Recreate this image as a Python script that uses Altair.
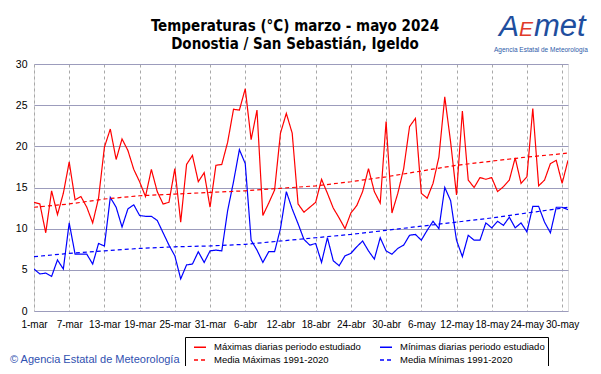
import json
import altair as alt
import pandas as pd

# ---- data ----
series_names = [
    "Máximas diarias periodo estudiado",
    "Mínimas diarias periodo estudiado",
    "Media Máximas 1991-2020",
    "Media Mínimas 1991-2020",
]
# legend fills column by column: [col0 row0, col0 row1, col1 row0, col1 row1]
legend_order = [series_names[0], series_names[2], series_names[1], series_names[3]]
series_colors = ["#ff0000", "#ff0000", "#0000ff", "#0000ff"]
series_dashes = [[1, 0], [4, 3], [1, 0], [4, 3]]

# day index 0 = 1 March 2024 ... 91 = 31 May 2024
days = list(range(92))

maximas = [
    13.2, 13.0, 9.5, 14.6, 11.7, 14.3, 18.1, 13.5, 13.9, 12.6,
    10.7, 13.7, 19.9, 22.1, 18.4, 20.9, 19.5, 17.2, 15.7, 13.9,
    17.2, 14.5, 13.0, 13.2, 17.3, 10.8, 17.8, 18.9, 15.7, 16.8,
    12.6, 17.7, 17.8, 20.5, 24.5, 24.4, 27.0, 20.8, 24.4, 11.6,
    13.1, 14.7, 21.6, 24.0, 21.6, 13.0, 12.0, 12.6, 13.2, 16.0,
    14.3, 12.5, 11.3, 10.0, 11.9, 12.8, 14.5, 17.3, 14.5, 13.1,
    23.0, 11.9, 14.3, 17.3, 22.4, 23.4, 14.3, 13.7, 15.5, 18.7,
    26.0, 20.5, 14.1, 24.3, 15.9, 15.0, 16.2, 16.0, 16.2, 14.5,
    15.1, 15.9, 18.6, 15.5, 16.3, 24.6, 15.2, 15.9, 17.9, 18.3,
    15.5, 18.3,
]

minimas = [
    5.1, 4.5, 4.6, 4.2, 6.2, 5.1, 10.7, 6.9, 6.9, 6.9,
    5.7, 8.2, 7.9, 13.8, 12.6, 10.2, 12.4, 12.9, 11.6, 11.5,
    11.5, 11.0, 9.5, 8.0, 6.7, 3.9, 5.6, 5.7, 7.2, 5.9,
    7.3, 7.4, 7.3, 12.2, 15.7, 19.6, 17.9, 8.6, 7.4, 5.9,
    7.2, 7.2, 10.0, 14.5, 12.4, 10.6, 8.7, 8.0, 8.2, 5.9,
    8.9, 6.1, 5.5, 6.7, 7.0, 7.8, 8.5, 7.3, 6.3, 8.9,
    7.3, 6.9, 7.6, 8.0, 9.2, 9.3, 8.6, 9.8, 10.9, 10.0,
    15.0, 13.4, 8.6, 6.6, 9.2, 8.6, 8.6, 10.7, 10.1, 10.9,
    10.4, 11.4, 10.1, 10.7, 9.6, 12.7, 12.7, 10.8, 9.5, 12.6,
    12.6, 12.3,
]

mean_days = [0, 6, 12, 18, 24, 30, 36, 42, 48, 54, 60, 66, 72, 78, 84, 90, 91]
media_max = [12.6, 13.0, 13.6, 14.0, 14.2, 14.4, 14.6, 14.9, 15.2, 15.7,
             16.3, 17.0, 17.7, 18.2, 18.7, 19.1, 19.2]
media_min = [6.6, 7.0, 7.3, 7.6, 7.8, 7.9, 8.1, 8.5, 8.9, 9.3,
             9.8, 10.3, 10.8, 11.3, 11.9, 12.5, 12.6]

tick_days = [0, 6, 12, 18, 24, 30, 36, 42, 48, 54, 60, 66, 72, 78, 84, 90]
tick_labels = ["1-mar", "7-mar", "13-mar", "19-mar", "25-mar", "31-mar",
               "6-abr", "12-abr", "18-abr", "24-abr", "30-abr", "6-may",
               "12-may", "18-may", "24-may", "30-may"]

y_ticks = [0, 5, 10, 15, 20, 25, 30]

title_line1 = "Temperaturas (°C) marzo - mayo 2024"
title_line2 = "Donostia / San Sebastián, Igeldo"

# ---- build table ----
frames = [
    pd.DataFrame({"day": days, "temp": maximas, "serie": series_names[0]}),
    pd.DataFrame({"day": days, "temp": minimas, "serie": series_names[1]}),
    pd.DataFrame({"day": mean_days, "temp": media_max, "serie": series_names[2]}),
    pd.DataFrame({"day": mean_days, "temp": media_min, "serie": series_names[3]}),
]
df = pd.concat(frames, ignore_index=True)

FONT = "Liberation Sans"
COND = "DejaVu Sans Condensed"
label_expr = json.dumps(tick_labels) + "[round(datum.value/6)]"
# widen the legend box on the right (trailing no-break spaces, invisible)
legend_label_expr = ("datum.label == " + json.dumps(series_names[1]) +
                     " ? datum.label + '\u00a0\u00a0\u00a0\u00a0\u00a0\u00a0\u00a0' : datum.label")

legend = alt.Legend(
    title=None, orient="none", legendX=151, legendY=273,
    columns=2, columnPadding=13, rowPadding=1, padding=3,
    fillColor="white", strokeColor="black",
    symbolType="stroke", symbolSize=144, symbolStrokeWidth=1.3,
    symbolOffset=5, labelExpr=legend_label_expr,
    labelFont=FONT, labelFontSize=9.5, labelLimit=400, labelOffset=7,
    labelColor="black",
)

lines = alt.Chart(df).mark_line(strokeWidth=1.2, clip=True).encode(
    x=alt.X("day:Q",
            scale=alt.Scale(domain=[0, 91], nice=False, zero=False),
            axis=alt.Axis(values=tick_days, labelExpr=label_expr, title=None,
                          grid=True, gridDash=[3, 3], gridColor="#a8a8a8",
                          gridWidth=1, ticks=False, domain=False,
                          labelFont=FONT, labelFontSize=10, labelColor="black",
                          labelPadding=8, labelOverlap=False, labelFlush=False)),
    y=alt.Y("temp:Q",
            scale=alt.Scale(domain=[0, 30], nice=False),
            axis=alt.Axis(values=y_ticks, title=None, grid=True,
                          gridColor="#9c9cbc", gridWidth=1, ticks=False,
                          domain=False, labelFont=FONT, labelFontSize=10.5,
                          labelColor="black", labelPadding=7)),
    color=alt.Color("serie:N",
                    scale=alt.Scale(domain=legend_order, range=series_colors),
                    legend=legend, sort=legend_order),
    strokeDash=alt.StrokeDash("serie:N",
                              scale=alt.Scale(domain=legend_order, range=series_dashes),
                              legend=legend, sort=legend_order),
    detail="serie:N",
    order="day:Q",
)


def txt(s, x, y, **kw):
    return alt.Chart(pd.DataFrame({"t": [s]})).mark_text(**kw).encode(
        x=alt.value(x), y=alt.value(y), text="t:N")


title1 = txt(title_line1, 261, -38, font=COND, fontSize=15, fontWeight="bold",
             color="black", align="center", baseline="middle")
title2 = txt(title_line2, 261, -20, font=COND, fontSize=15, fontWeight="bold",
             color="black", align="center", baseline="middle")

logo_a = txt("A", 465, -28, font=FONT, fontSize=30, fontStyle="italic",
             color="#1f4e9e", align="left", baseline="alphabetic")
logo_e = txt("E", 485, -28, font=FONT, fontSize=21, fontStyle="italic",
             color="#e03a2a", align="left", baseline="alphabetic")
logo_met = txt("met", 500, -28, font=FONT, fontSize=31, fontStyle="italic",
               color="#1f4e9e", align="left", baseline="alphabetic")
logo_sub = txt("Agencia Estatal de Meteorología", 507, -14, font=FONT,
               fontSize=6.5, color="#2d5aa8", align="center", baseline="middle")
copyright_txt = txt("© Agencia Estatal de Meteorología", -24, 296, font=FONT,
                    fontSize=11, color="#3050b0", align="left", baseline="middle")

chart = alt.layer(lines, title1, title2, logo_a, logo_e, logo_met, logo_sub,
                  copyright_txt).properties(
    width=534, height=247,
    padding={"left": 26, "top": 56, "right": 25, "bottom": 55},
    autosize=alt.AutoSizeParams(type="none"),
).configure_view(
    fill="#ffffc4", stroke="#555555", strokeWidth=1.5,
).configure(background="white")

chart.save("out.html", embed_options={"renderer": "svg", "actions": False})
